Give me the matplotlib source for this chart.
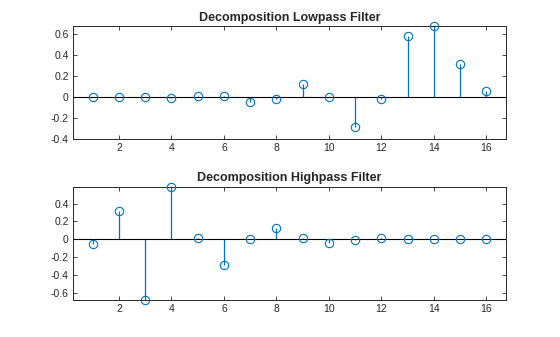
import numpy as np
import matplotlib
matplotlib.use("Agg")
import matplotlib.pyplot as plt

plt.rcParams['font.family'] = ['Liberation Sans', 'DejaVu Sans']

# db8 decomposition filters
taps = np.arange(1, 17)
lo_d = [-0.000117, 0.000675, -0.000392, -0.004870, 0.008746, 0.013981,
        -0.044088, -0.017369, 0.128747, 0.000472, -0.284016, -0.015829,
        0.585355, 0.675631, 0.312872, 0.054416]
hi_d = [-0.054416, 0.312872, -0.675631, 0.585355, 0.015829, -0.284016,
        -0.000472, 0.128747, 0.017369, -0.044088, -0.013981, 0.008746,
        0.004870, -0.000392, -0.000675, -0.000117]
titles = ["Decomposition Lowpass Filter", "Decomposition Highpass Filter"]
xticks = [2, 4, 6, 8, 10, 12, 14, 16]
yticks_lo = [-0.4, -0.2, 0, 0.2, 0.4, 0.6]
yticks_hi = [-0.6, -0.4, -0.2, 0, 0.2, 0.4]

blue = '#0072BD'
dark = '#262626'

fig = plt.figure(figsize=(5.6, 3.37), dpi=100)
ax1 = fig.add_axes([73 / 560, 1 - 139 / 337, 433 / 560, 112.5 / 337])
ax2 = fig.add_axes([73 / 560, 1 - 299.5 / 337, 433 / 560, 112.5 / 337])

for ax, vals, title, yt, ylim in [
        (ax1, lo_d, titles[0], yticks_lo, (-0.4, max(lo_d))),
        (ax2, hi_d, titles[1], yticks_hi, (min(hi_d), max(hi_d)))]:
    ml, sl, bl = ax.stem(taps, vals, basefmt='k-')
    plt.setp(sl, color=blue, linewidth=0.9)
    plt.setp(ml, marker='o', markersize=6, markerfacecolor='none',
             markeredgecolor=blue, markeredgewidth=0.8, clip_on=False,
             zorder=3)
    # baseline across the whole axes width
    bl.set_visible(False)
    ax.axhline(0, color='black', linewidth=0.8, zorder=2)
    ax.set_xlim(0.25, 16.75)
    ax.set_ylim(*ylim)
    ax.set_xticks(xticks)
    ax.set_yticks(yt)
    ax.set_yticklabels([f"{v:g}" for v in yt])
    ax.tick_params(direction='in', top=True, right=True, length=3,
                   width=0.6, labelsize=7.5, colors=dark, pad=3)
    for sp in ax.spines.values():
        sp.set_color(dark)
        sp.set_linewidth(0.7)
    ax.set_title(title, fontsize=9, fontweight='bold', color=dark, pad=4)

fig.savefig("out.png", dpi=100)
